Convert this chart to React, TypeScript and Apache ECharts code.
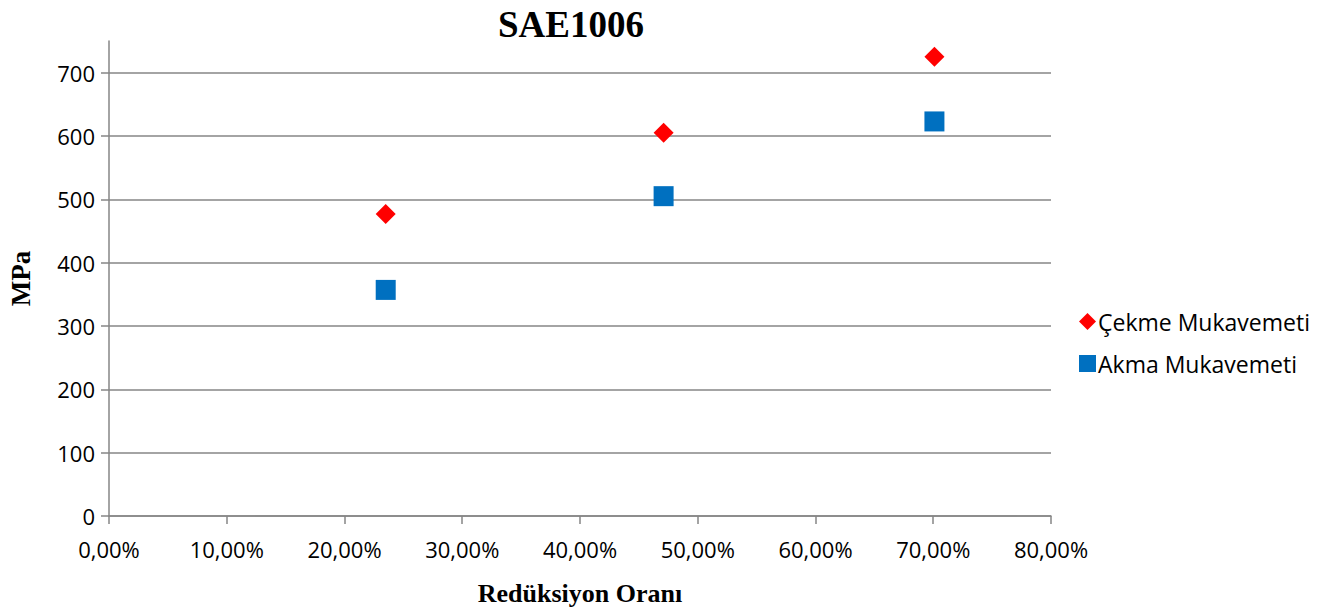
import React, { useEffect, useRef } from "react";
import * as echarts from "echarts";

const reductionRatios = [0.235, 0.471, 0.701];
const cekmeValues = [477, 605, 725];
const akmaValues = [357, 505, 623];
const yTicks = [0, 100, 200, 300, 400, 500, 600, 700];
const seriesNames = ["Çekme Mukavemeti", "Akma Mukavemeti"];

export default function App() {
  const ref = useRef<HTMLDivElement>(null);
  useEffect(() => {
    if (!ref.current) return;
    const chart = echarts.init(ref.current, null, { renderer: "svg" });
    const axisColor = "#868686";
    const serif = "'Liberation Serif', 'Times New Roman', serif";
    const labelFont = { fontFamily: "'Open Sans', 'Noto Sans', sans-serif", fontSize: 22, color: "#000" };
    chart.setOption({
      animation: false,
      backgroundColor: "#fff",
      title: {
        text: "SAE1006",
        left: 566,
        top: 1,
        textAlign: "center",
        textStyle: { fontFamily: serif, fontWeight: "bold", fontSize: 37, color: "#000" },
      },
      grid: { left: 109, right: 284, top: 41, bottom: 95, outerBoundsMode: "none", containLabel: false },
      legend: {
        orient: "vertical",
        left: 1074,
        top: 305,
        itemWidth: 17,
        itemHeight: 17,
        itemGap: 19,
        textStyle: { ...labelFont, fontSize: 23, padding: [0, 0, 0, -3] },
        data: [
          { name: seriesNames[0], icon: "diamond" },
          { name: seriesNames[1], icon: "rect" },
        ],
      },
      xAxis: {
        type: "value",
        min: 0,
        max: 0.8,
        interval: 0.1,
        name: "Redüksiyon Oranı",
        nameLocation: "middle",
        nameGap: 64,
        nameTextStyle: { fontFamily: serif, fontWeight: "bold", fontSize: 26, color: "#000" },
        axisLine: { show: true, lineStyle: { color: axisColor, width: 1.5 } },
        axisTick: { show: true, inside: false, length: 8, lineStyle: { color: axisColor, width: 1.5 } },
        splitLine: { show: false },
        axisLabel: {
          ...labelFont,
          margin: 22,
          formatter: (v: number) => (v * 100).toFixed(2).replace(".", ",") + "%",
        },
      },
      yAxis: {
        type: "value",
        min: 0,
        max: 750,
        interval: 100,
        name: "MPa",
        nameLocation: "middle",
        nameGap: 75,
        nameRotate: 90,
        nameTextStyle: { fontFamily: serif, fontWeight: "bold", fontSize: 27, color: "#000" },
        axisLine: { show: true, lineStyle: { color: axisColor, width: 1.5 } },
        axisTick: { show: true, inside: false, length: 8, customValues: yTicks, lineStyle: { color: axisColor, width: 1.5 } },
        splitLine: { show: true, lineStyle: { color: axisColor, width: 1.5 } },
        axisLabel: { ...labelFont, margin: 14, customValues: yTicks },
      },
      series: [
        {
          name: seriesNames[0],
          type: "scatter",
          symbol: "diamond",
          symbolSize: 20,
          itemStyle: { color: "#ff0000", opacity: 1 },
          data: reductionRatios.map((x, i) => [x, cekmeValues[i]]),
        },
        {
          name: seriesNames[1],
          type: "scatter",
          symbol: "rect",
          symbolSize: 20,
          itemStyle: { color: "#0070c0", opacity: 1 },
          data: reductionRatios.map((x, i) => [x, akmaValues[i]]),
        },
      ],
    });
    return () => chart.dispose();
  }, []);
  return <div ref={ref} style={{ width: 1335, height: 611, position: "absolute", left: 0, top: 0 }} />;
}
